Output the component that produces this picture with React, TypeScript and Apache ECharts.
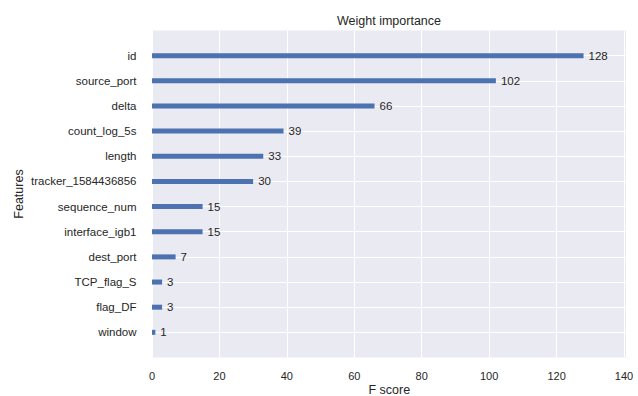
import React, { useEffect, useRef } from "react";
import * as echarts from "echarts";

// Feature importance (weight), ordered from bottom to top of the plot
const features = [
  "window",
  "flag_DF",
  "TCP_flag_S",
  "dest_port",
  "interface_igb1",
  "sequence_num",
  "tracker_1584436856",
  "length",
  "count_log_5s",
  "delta",
  "source_port",
  "id",
];
const scores = [1, 3, 3, 7, 15, 15, 30, 33, 39, 66, 102, 128];
const xTicks = [0, 20, 40, 60, 80, 100, 120, 140];

const FONT = "'Liberation Sans', Arial, sans-serif";
const TEXT = "#262626";
const BG = "#EAEAF2";
const BAR = "#4C72B0";

export default function App() {
  const ref = useRef<HTMLDivElement>(null);

  useEffect(() => {
    if (!ref.current) return;
    const chart = echarts.init(ref.current, undefined, {
      renderer: "svg",
      width: 638,
      height: 396,
    });

    // one empty slot below and above so the rows sit one unit away from the edges
    const cats = ["", ...features, ""];
    const values = [null, ...scores, null];
    const xMax = Math.max(...scores) * 1.1;
    const lastIdx = cats.length - 1;

    chart.setOption({
      animation: false,
      textStyle: { fontFamily: FONT },
      title: {
        text: "Weight importance",
        left: 384,
        top: 9,
        textAlign: "center",
        textStyle: { fontFamily: FONT, fontSize: 12.5, fontWeight: "normal", color: TEXT },
      },
      grid: {
        left: 152,
        right: 11.3,
        top: 30.5,
        height: 327,
        show: true,
        backgroundColor: BG,
        borderWidth: 0,
        containLabel: false,
        outerBoundsMode: "none",
      },
      xAxis: {
        type: "value",
        min: 0,
        max: xMax,
        interval: 20,
        name: "F score",
        nameLocation: "middle",
        nameGap: 26,
        nameMoveOverlap: false,
        nameTextStyle: { fontFamily: FONT, fontSize: 12.5, color: TEXT },
        axisLine: { show: false },
        axisTick: { show: false },
        axisLabel: {
          margin: 13,
          fontFamily: FONT,
          fontSize: 11,
          color: TEXT,
          formatter: (v: number) => (xTicks.includes(v) ? String(v) : ""),
        },
        splitLine: { show: true, lineStyle: { color: "#ffffff", width: 1 } },
      },
      yAxis: {
        type: "category",
        data: cats,
        boundaryGap: false,
        name: "Features",
        nameLocation: "middle",
        nameGap: 127,
        nameMoveOverlap: false,
        nameTextStyle: { fontFamily: FONT, fontSize: 12.5, color: TEXT },
        axisLine: { show: false },
        axisTick: { show: false },
        axisLabel: { interval: 0, margin: 15.5, fontFamily: FONT, fontSize: 11.5, color: TEXT },
        splitLine: {
          show: true,
          interval: (i: number) => i > 0 && i < lastIdx,
          lineStyle: { color: "#ffffff", width: 1 },
        },
      },
      series: [
        {
          type: "bar",
          data: values,
          barWidth: 5,
          itemStyle: { color: BAR },
          label: {
            show: true,
            position: "right",
            distance: 5,
            formatter: "{c}",
            fontFamily: FONT,
            fontSize: 11.5,
            color: TEXT,
          },
        },
      ],
    });

    return () => chart.dispose();
  }, []);

  return (
    <div
      ref={ref}
      style={{ position: "fixed", left: 0, top: 0, width: 638, height: 396, background: "#ffffff" }}
    />
  );
}
